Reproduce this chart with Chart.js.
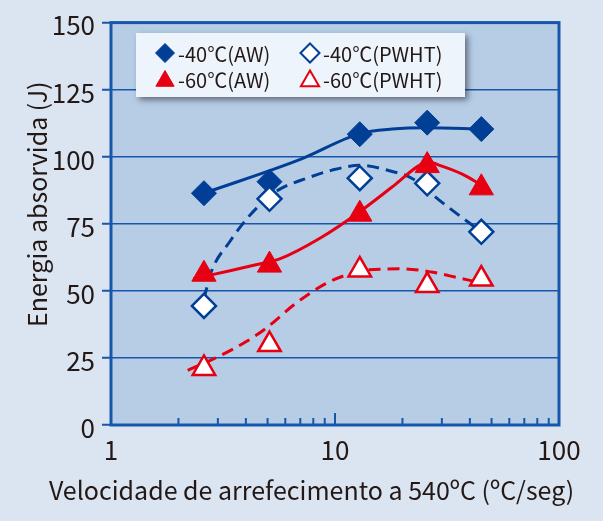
<!DOCTYPE html>
<html>
<head>
<meta charset="utf-8">
<script src="https://cdn.jsdelivr.net/npm/chart.js@4"></script>
<style>
  html, body { margin: 0; padding: 0; background: #dae5f1; }
  #wrap { width: 603px; height: 521px; }
</style>
</head>
<body>
<div id="wrap"><canvas id="impactChart"></canvas></div>
<script>
// measured points (cooling rate at 540 C vs absorbed energy)
const rates = [2.6, 5.1, 12.9, 25.8, 45];
const aw40 = [86.4, 90.7, 108.4, 112.7, 110.3];
const pwht40 = [44.4, 84.3, 92, 90.1, 72];
const aw60 = [56.2, 59.6, 78.6, 96.7, 88.4];
const pwht60 = [21.1, 30, 57.8, 52, 54.4];

// hand drawn trend curves
const aw40CurveX = [2.6, 7, 12.9, 18, 25.8, 45];
const aw40CurveY = [86.4, 99, 108.6, 110.3, 110.8, 110.4];
const pwht40CurveX = [2.6, 2.8, 3.4, 4.1, 4.9, 5.7, 7.5, 9.7, 12.9, 18, 22, 29, 36, 45];
const pwht40CurveY = [47, 57, 68.5, 77.5, 84, 88, 92, 95, 96.8, 94.5, 92, 84, 78, 72];
const aw60CurveX = [2.33, 3.4, 4.6, 5.7, 8.6, 12.9, 18.8, 23.5, 26, 30, 37, 45];
const aw60CurveY = [54.5, 57.5, 60, 62, 69.7, 79.5, 90, 96.5, 98, 96.5, 93.5, 89.5];
const pwht60CurveX = [2.2, 2.9, 4, 5, 6.6, 9, 11.3, 14, 20, 27, 35, 42];
const pwht60CurveY = [20.4, 24.8, 31, 36.5, 45, 52.5, 56, 57.8, 58.2, 57, 55, 53.5];

const xTickValues = [1, 2, 3, 4, 5, 6, 7, 8, 9, 10, 20, 30, 40, 50, 60, 70, 80, 90, 100];
const xLabels = [1, 10, 100];

const BLUE = '#013e96';
const RED = '#e60012';
const FRAME = '#1656ab';
const TEXT = '#231815';
const FONT = '"Noto Sans CJK JP", "Noto Sans", sans-serif';

const pts = (xs, ys) => xs.map((x, i) => ({x: x, y: ys[i]}));

function markerSet(label, ys, style, fill, stroke, r, bw) {
  return {
    label: label, data: pts(rates, ys), showLine: false,
    pointStyle: style, pointRadius: r, pointBackgroundColor: fill,
    pointBorderColor: stroke, pointBorderWidth: bw
  };
}
function curveSet(xs, ys, color, dashed) {
  return {
    data: pts(xs, ys), borderColor: color, borderWidth: 3,
    borderDash: dashed ? [12, 7] : [], pointRadius: 0,
    cubicInterpolationMode: 'monotone', fill: false
  };
}

const plotFrame = {
  id: 'plotFrame',
  beforeDraw(chart) {
    const {ctx, chartArea: a} = chart;
    ctx.save();
    ctx.fillStyle = '#b7cde6';
    ctx.fillRect(a.left, a.top, a.right - a.left, a.bottom - a.top);
    ctx.restore();
  },
  beforeDatasetsDraw(chart) {
    const {ctx, chartArea: a} = chart;
    const xs = chart.scales.x;
    ctx.save();
    ctx.strokeStyle = FRAME;
    ctx.lineWidth = 2;
    xs.ticks.forEach(t => {
      if (t.value <= 1 || t.value >= 100) return;
      const px = xs.getPixelForValue(t.value);
      const len = t.value === 10 ? 12 : 7;
      ctx.beginPath();
      ctx.moveTo(px, a.bottom);
      ctx.lineTo(px, a.bottom - len);
      ctx.stroke();
    });
    ctx.lineWidth = 3;
    ctx.strokeRect(a.left, a.top, a.right - a.left, a.bottom - a.top);
    ctx.restore();
  }
};

function drawMarker(ctx, style, x, y, r, fill, stroke, lw) {
  ctx.beginPath();
  if (style === 'rectRot') {
    ctx.moveTo(x, y - r);
    ctx.lineTo(x + r, y);
    ctx.lineTo(x, y + r);
    ctx.lineTo(x - r, y);
  } else {
    ctx.moveTo(x, y - r);
    ctx.lineTo(x + r * Math.sin(2 * Math.PI / 3), y + r / 2);
    ctx.lineTo(x - r * Math.sin(2 * Math.PI / 3), y + r / 2);
  }
  ctx.closePath();
  ctx.fillStyle = fill;
  ctx.fill();
  ctx.lineWidth = lw;
  ctx.strokeStyle = stroke;
  ctx.stroke();
}

// boxed legend in two columns, taken from the marker datasets
const boxLegend = {
  id: 'boxLegend',
  afterDraw(chart) {
    const {ctx} = chart;
    ctx.save();
    ctx.shadowColor = 'rgba(30,30,40,0.55)';
    ctx.shadowBlur = 6;
    ctx.shadowOffsetX = 3;
    ctx.shadowOffsetY = 3;
    ctx.fillStyle = '#edf4fb';
    ctx.fillRect(136, 33, 329, 64);
    ctx.restore();

    const slots = [[3, 165, 53], [2, 310, 53], [0, 165, 79], [1, 310, 79]];
    ctx.save();
    ctx.font = '20px ' + FONT;
    ctx.textBaseline = 'middle';
    slots.forEach(([i, x, y]) => {
      const ds = chart.data.datasets[i];
      const r = ds.pointStyle === 'triangle' ? 10.5 : 9.5;
      drawMarker(ctx, ds.pointStyle, x, y + (ds.pointStyle === 'triangle' ? 2 : 0), r,
        ds.pointBackgroundColor, ds.pointBorderColor, ds.pointBorderWidth > 1 ? 2 : 1);
      ctx.fillStyle = TEXT;
      ctx.fillText(ds.label, x + 13, y + 1);
    });
    ctx.restore();
  }
};

new Chart(document.getElementById('impactChart'), {
  type: 'line',
  data: {
    datasets: [
      markerSet('-60\u2103(AW)', aw60, 'triangle', RED, RED, 14, 1),
      markerSet('-60\u2103(PWHT)', pwht60, 'triangle', '#ffffff', RED, 13, 2.5),
      markerSet('-40\u2103(PWHT)', pwht40, 'rectRot', '#ffffff', BLUE, 12, 2.5),
      markerSet('-40\u2103(AW)', aw40, 'rectRot', BLUE, BLUE, 12.5, 1),
      curveSet(aw60CurveX, aw60CurveY, RED, false),
      curveSet(pwht60CurveX, pwht60CurveY, RED, true),
      curveSet(pwht40CurveX, pwht40CurveY, BLUE, true),
      curveSet(aw40CurveX, aw40CurveY, BLUE, false)
    ]
  },
  options: {
    responsive: true,
    maintainAspectRatio: false,
    animation: false,
    events: [],
    layout: { padding: { left: 20, top: 20, right: 0, bottom: 0 } },
    plugins: {
      legend: { display: false },
      tooltip: { enabled: false },
      title: {
        display: true,
        position: 'bottom',
        text: 'Velocidade de arrefecimento a 540\u00baC (\u00baC/seg)',
        color: TEXT,
        font: { family: FONT, size: 25, weight: 'normal', lineHeight: 1.2 },
        padding: { top: 0, bottom: 16 }
      }
    },
    scales: {
      x: {
        type: 'logarithmic',
        min: 1,
        max: 100,
        afterBuildTicks: axis => { axis.ticks = xTickValues.map(v => ({value: v})); },
        afterFit: axis => { axis.height = 50; },
        grid: { display: false, drawTicks: false },
        border: { display: false },
        ticks: {
          autoSkip: false,
          maxRotation: 0,
          padding: 10,
          color: TEXT,
          font: { family: FONT, size: 26 },
          callback: v => xLabels.includes(v) ? String(v) : ''
        }
      },
      y: {
        min: 0,
        max: 150,
        afterFit: axis => { axis.width = 91; },
        grid: { color: FRAME, lineWidth: 1.5, tickColor: FRAME, tickWidth: 2, tickLength: 9 },
        border: { display: false },
        ticks: {
          stepSize: 25,
          padding: 7,
          labelOffset: 3,
          color: TEXT,
          font: { family: FONT, size: 26 }
        },
        title: {
          display: true,
          text: '       Energia absorvida (J)',
          color: TEXT,
          font: { family: FONT, size: 25, lineHeight: 1.2 },
          padding: { top: 2, bottom: 0 }
        }
      },
      yRight: {
        position: 'right',
        afterFit: axis => { axis.width = 44; },
        grid: { display: false },
        border: { display: false },
        ticks: { display: false }
      }
    }
  },
  plugins: [plotFrame, boxLegend]
});
</script>
</body>
</html>
